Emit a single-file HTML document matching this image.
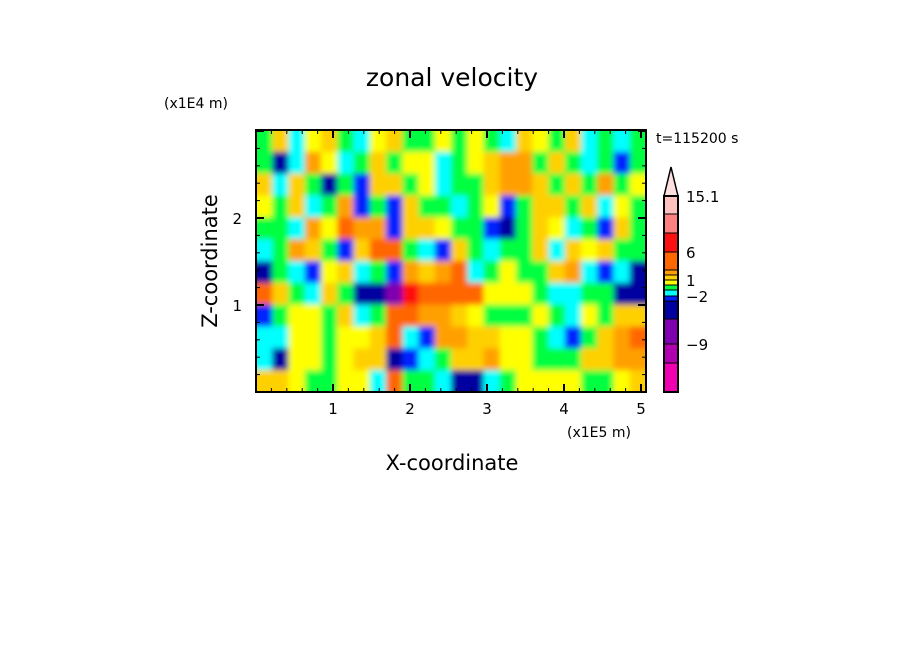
<!DOCTYPE html>
<html><head><meta charset="utf-8"><style>
body{margin:0;background:#fff;}
svg text{font-family:"DejaVu Sans","Liberation Sans",sans-serif;fill:#000;}
</style></head><body>
<svg id="c" width="904" height="654" viewBox="0 0 904 654" xmlns="http://www.w3.org/2000/svg">
<defs>
<clipPath id="pc"><rect x="256" y="130" width="390" height="262"/></clipPath>
<filter id="bl" x="-5%" y="-5%" width="110%" height="110%"><feGaussianBlur stdDeviation="3"/></filter>
</defs>
<g clip-path="url(#pc)"><g id="cells" filter="url(#bl)"></g></g>
<rect x="256" y="130" width="390" height="262" fill="none" stroke="#000" stroke-width="2"/>
<g id="ticks"></g>
<g id="cbar"></g>
<text x="452" y="86" font-size="25" text-anchor="middle">zonal velocity</text>
<text x="164" y="108" font-size="14">(x1E4 m)</text>
<text x="656" y="143" font-size="14">t=115200 s</text>
<text x="567" y="437" font-size="14">(x1E5 m)</text>
<text x="452" y="470" font-size="21" text-anchor="middle">X-coordinate</text>
<text x="0" y="0" font-size="21" text-anchor="middle" transform="translate(217,261) rotate(-90)">Z-coordinate</text>
</svg>
<script>
const levels=[-12,-9,-6,-3,-2,-1,0,1,2,3,6,9,12,15.1];
const levelColors=["#f000b0","#b000b0","#8000b0","#0000a0","#0020ff","#00ffff","#00ff40","#ffff00","#ffd000","#ffa000","#ff6600","#ff1010","#ff8080","#ffc0c0"];
const cbarLabels=["15.1","6","1","-2","-9"];
const cbarLabelValues=[15.1,6,1,-2,-9];
const xTicks=[1,2,3,4,5];
const yTicks=[1,2];
const codeValues={M:-10,P:-7,N:-4,B:-2.5,C:-1.5,G:-0.5,Y:0.5,y:1.5,o:2.5,O:4.5,R:7.5};
const fieldRows=[
"GyCYyGCYyGGYGYGCyYGyCGCG",
"GNCoYCGyGYYCGYyooGyGCGBG",
"yCyGNGByyGYCGGyooyGyGoGY",
"YGyCGoBGByGGCGYBGyyGyCYG",
"GGCoYOooByyYGGBNGyYCGByG",
"CGoyGByOOGCByGCGGyCyYyGG",
"NGCBYyCGBoyoOCGYGGyoCBCN",
"OyGCyGNNPROOOOYYYGCCGGNN",
"BGYYGyCGOOooyYGGGYGCYGyy",
"CCYYGYYyOCBooyyYYGCBGyoO",
"CNYYGYyyNBCGyyoYYGGGyyoo",
"yyYGGYYCOGGCNNCGYYYYGGYy"
];
const NS="http://www.w3.org/2000/svg";
const X0=256,X1=646,Y0=392,Y1=130;
const xMax=(X1-X0)/77, yMax=(Y0-Y1)/87;
function sx(v){return X0+v*77;}
function sy(v){return Y0-v*87;}
function colorFor(v){for(let i=0;i<levels.length;i++){if(v<levels[i])return levelColors[i];}return "#ffe0e0";}
const cells=document.getElementById('cells');
const nr=fieldRows.length,nc=fieldRows[0].length;
for(let r=0;r<nr;r++)for(let c=0;c<nc;c++){
 const v=codeValues[fieldRows[r][c]];
 let x0=sx(c*xMax/nc),x1=sx((c+1)*xMax/nc),y0=sy(yMax-r*yMax/nr),y1=sy(yMax-(r+1)*yMax/nr);
 if(c===0)x0-=8; if(c===nc-1)x1+=8; if(r===0)y0-=8; if(r===nr-1)y1+=8;
 const e=document.createElementNS(NS,'rect');
 e.setAttribute('x',x0);e.setAttribute('y',y0);e.setAttribute('width',x1-x0+0.5);e.setAttribute('height',y1-y0+0.5);
 e.setAttribute('fill',colorFor(v));
 
 
 cells.appendChild(e);
}
const tk=document.getElementById('ticks');
function line(g,x1,y1,x2,y2,w){const l=document.createElementNS(NS,'line');l.setAttribute('x1',x1);l.setAttribute('y1',y1);l.setAttribute('x2',x2);l.setAttribute('y2',y2);l.setAttribute('stroke','#000');l.setAttribute('stroke-width',w||1);g.appendChild(l);return l;}
for(let v=0.2;v<xMax;v+=0.2){const x=sx(v);const maj=Math.abs(v-Math.round(v))<0.01;const L=maj?8:4;line(tk,x,Y0,x,Y0-L,maj?2:1);line(tk,x,Y1,x,Y1+L,maj?2:1);}
for(let v=0.2;v<yMax;v+=0.2){const y=sy(v);const maj=Math.abs(v-Math.round(v))<0.01;const L=maj?8:4;line(tk,X0,y,X0+L,y,maj?2:1);line(tk,X1,y,X1-L,y,maj?2:1);}
xTicks.forEach(v=>{const t=document.createElementNS(NS,'text');t.setAttribute('x',sx(v));t.setAttribute('y',414);t.setAttribute('font-size','15');t.setAttribute('text-anchor','middle');t.textContent=v;


tk.appendChild(t);});
yTicks.forEach(v=>{const t=document.createElementNS(NS,'text');t.setAttribute('x',242);t.setAttribute('y',sy(v)+6);t.setAttribute('font-size','15');t.setAttribute('text-anchor','end');t.textContent=v;


tk.appendChild(t);});
const cb=document.getElementById('cbar');
const cbEdges=[392,363,344,319,301,296,290,285,280,275,270,252,233,214,196];
for(let i=0;i<levelColors.length;i++){
 const e=document.createElementNS(NS,'rect');
 e.setAttribute('x',664);e.setAttribute('y',cbEdges[i+1]);e.setAttribute('width',14);e.setAttribute('height',cbEdges[i]-cbEdges[i+1]);
 e.setAttribute('fill',levelColors[i]);e.setAttribute('stroke','#000');e.setAttribute('stroke-width','1');
 
 
 cb.appendChild(e);
}
const tri=document.createElementNS(NS,'polygon');
tri.setAttribute('points','664,196 678,196 671,167');tri.setAttribute('fill','#ffe0e0');tri.setAttribute('stroke','#000');tri.setAttribute('stroke-width','1.5');


cb.appendChild(tri);
const fr=document.createElementNS(NS,'rect');fr.setAttribute('x',664);fr.setAttribute('y',196);fr.setAttribute('width',14);fr.setAttribute('height',196);fr.setAttribute('fill','none');fr.setAttribute('stroke','#000');fr.setAttribute('stroke-width','2');cb.appendChild(fr);
cbarLabels.forEach((s,i)=>{const v=cbarLabelValues[i];const idx=levels.indexOf(v);const y=idx>=0?cbEdges[idx+1]:196;
 const t=document.createElementNS(NS,'text');t.setAttribute('x',686);t.setAttribute('y',y+6);t.setAttribute('font-size','15');t.textContent=s.replace('-','\u2212');
 
 
 cb.appendChild(t);});
</script>
</body></html>
